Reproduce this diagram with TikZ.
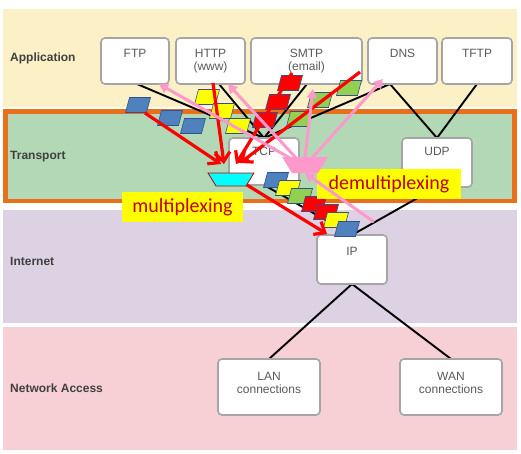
\documentclass[tikz,border=0pt]{standalone}
\usepackage{fontspec}
\setmainfont{Liberation Sans}
\newfontfamily\calfont{Carlito}
\usetikzlibrary{arrows.meta}
\definecolor{appbg}{HTML}{FCF0C6}
\definecolor{trbg}{HTML}{B3D8B5}
\definecolor{trborder}{HTML}{E8701A}
\definecolor{inbg}{HTML}{DDD2E4}
\definecolor{nabg}{HTML}{F6D0D5}
\definecolor{boxgray}{HTML}{A5A5A5}
\definecolor{txtgray}{HTML}{595959}
\definecolor{lblgray}{HTML}{404040}
\definecolor{pblue}{HTML}{4F81BD}
\definecolor{pyellow}{HTML}{FFFF00}
\definecolor{pred}{HTML}{FF0000}
\definecolor{pgreen}{HTML}{92D050}
\definecolor{pedge}{HTML}{2F528F}
\definecolor{pinkarr}{HTML}{FF99CC}
\definecolor{darkred}{HTML}{C00000}
\definecolor{muxcyan}{HTML}{00FFFF}
\newcommand\pkt[3]{\draw[pedge, line width=0.6pt, fill=#1] (#2-12.5,#3+7.5) -- (#2+8.5,#3+7.5) -- (#2+12.5,#3-7.5) -- (#2-8.5,#3-7.5) -- cycle;}
\begin{document}
\begin{tikzpicture}[x=1pt,y=-1pt,
  protobox/.style={draw=boxgray, line width=1.6pt, fill=white, rounded corners=4pt, inner sep=0pt},
  btxt/.style={font=\fontsize{12}{14}\selectfont, text=txtgray, inner sep=0pt, anchor=base},
  layer/.style={font=\bfseries\fontsize{12}{14}\selectfont, text=lblgray, anchor=west, inner sep=0pt},
  link/.style={line width=1.9pt, black},
  muxarrow/.style={draw=pred, line width=3.2pt, -{Straight Barb[length=9pt,width=15pt]}},
  demuxarrow/.style={draw=pinkarr, line width=3pt, -{Triangle[length=9pt,width=10pt]}},
  tag/.style={fill=pyellow, text=darkred, font=\calfont\fontsize{20}{22}\selectfont, inner sep=0pt}
]
\useasboundingbox (0,0) rectangle (521,453);
\fill[white] (0,0) rectangle (521,453);
% layer bands
\fill[appbg] (3,9) rectangle (517,107);
\draw[trborder, fill=trbg, line width=4.5pt] (5.5,111.5) rectangle (514.5,201);
\fill[inbg] (3,210) rectangle (517,323);
\fill[nabg] (3,327) rectangle (517,450);
% layer names
\node[layer] (lapp) at (10,58) {Application};
\node[layer] (ltr) at (10,157) {Transport};
\node[layer] (lin) at (10,261) {Internet};
\node[layer] (lna) at (10,388) {Network Access};
% link end points
\coordinate (ftpS) at (137,84);
\coordinate (httpS) at (219,84);
\coordinate (smtpS) at (307,84);
\coordinate (dnsS) at (390,84);
\coordinate (tftpS) at (477,84);
\coordinate (tcpN) at (264,138);
\coordinate (tcpS) at (264,185);
\coordinate (udpN) at (437,138);
\coordinate (udpS) at (437,187);
\coordinate (ipN) at (352,235);
\coordinate (ipS) at (352,284);
\coordinate (lanN) at (269,359);
\coordinate (wanN) at (451,359);
% links
\draw[link] (ftpS) -- (tcpN);
\draw[link] (httpS) -- (tcpN);
\draw[link] (smtpS) -- (tcpN);
\draw[link] (dnsS) -- (tcpN);
\draw[link] (dnsS) -- (udpN);
\draw[link] (tftpS) -- (udpN);
\draw[link] (tcpS) -- (ipN);
\draw[link] (udpS) -- (ipN);
\draw[link] (ipS) -- (lanN);
\draw[link] (ipS) -- (wanN);
% boxes
\node[protobox, minimum width=68pt, minimum height=46pt] (ftp) at (135,61) {};
\node[protobox, minimum width=69pt, minimum height=46pt] (http) at (210.5,61) {};
\node[protobox, minimum width=111pt, minimum height=46pt] (smtp) at (306.5,61) {};
\node[protobox, minimum width=69pt, minimum height=46pt] (dns) at (402.5,61) {};
\node[protobox, minimum width=70pt, minimum height=46pt] (tftp) at (477,61) {};
\node[protobox, minimum width=70pt, minimum height=47pt] (tcp) at (264,161.5) {};
\node[protobox, minimum width=70pt, minimum height=49pt] (udp) at (437,162.5) {};
\node[protobox, minimum width=70pt, minimum height=49pt] (ip) at (352,259.5) {};
\node[protobox, minimum width=102pt, minimum height=56pt] (lan) at (269,387) {};
\node[protobox, minimum width=102pt, minimum height=56pt] (wan) at (451,387) {};
% box texts
\node[btxt] (tftp1) at (135,57) {FTP};
\node[btxt] (thttp1) at (210.5,57) {HTTP};
\node[btxt] (thttp2) at (210.5,70) {(www)};
\node[btxt] (tsmtp1) at (306.5,57) {SMTP};
\node[btxt] (tsmtp2) at (306.5,70) {(email)};
\node[btxt] (tdns1) at (402.5,57) {DNS};
\node[btxt] (ttftp1) at (477,57) {TFTP};
\node[btxt] (ttcp1) at (264,155) {TCP};
\node[btxt] (tudp1) at (437,155) {UDP};
\node[btxt] (tip1) at (352,255) {IP};
\node[btxt] (tlan1) at (269,380) {LAN};
\node[btxt] (tlan2) at (269,393) {connections};
\node[btxt] (twan1) at (451,380) {WAN};
\node[btxt] (twan2) at (451,393) {connections};
% upper packets
\pkt{pblue}{138}{105}
\pkt{pblue}{170}{118}
\pkt{pblue}{193}{126}
\pkt{pyellow}{207}{97}
\pkt{pyellow}{222}{111}
\pkt{pyellow}{238}{126}
\pkt{pred}{290}{83}
\pkt{pred}{278}{102}
\pkt{pred}{265}{120}
\pkt{pgreen}{349}{88}
\pkt{pgreen}{320}{100}
\pkt{pgreen}{299}{119}
% lower packets
\pkt{pblue}{276}{180}
\pkt{pyellow}{288}{188}
\pkt{pgreen}{300}{196}
\pkt{pred}{314}{204}
\pkt{pred}{326}{212}
\pkt{pyellow}{336}{220}
\pkt{pblue}{347}{229}
% tags
\node[tag, minimum width=121pt, minimum height=30pt] (mtag) at (182.5,207) {multiplexing};
\node[tag, minimum width=144pt, minimum height=30pt] (dtag) at (389,184) {demultiplexing};
% arrow end points
\coordinate (r1s) at (145,113); \coordinate (r1e) at (221,164);
\coordinate (r2s) at (213,83);  \coordinate (r2e) at (224,164);
\coordinate (r3s) at (292,73);  \coordinate (r3e) at (236,164);
\coordinate (r4s) at (360,72);  \coordinate (r4e) at (240,163);
\coordinate (r5s) at (247,185); \coordinate (r5e) at (327,234);
\coordinate (p1s) at (374,222); \coordinate (p1e) at (305,173);
\coordinate (p2s) at (290,158); \coordinate (p2e) at (159,84);
\coordinate (p3s) at (296,158); \coordinate (p3e) at (228,84);
\coordinate (p4s) at (305,158); \coordinate (p4e) at (313,89);
\coordinate (p5s) at (312,158); \coordinate (p5e) at (383,79);
% red multiplexing arrows
\draw[muxarrow] (r1s) -- (r1e);
\draw[muxarrow] (r2s) -- (r2e);
\draw[muxarrow] (r3s) -- (r3e);
\draw[muxarrow] (r4s) -- (r4e);
\draw[muxarrow] (r5s) -- (r5e);
% pink demultiplexing arrows
\draw[demuxarrow] (p1s) -- (p1e);
\draw[demuxarrow] (p2s) -- (p2e);
\draw[demuxarrow] (p3s) -- (p3e);
\draw[demuxarrow] (p4s) -- (p4e);
\draw[demuxarrow] (p5s) -- (p5e);
% mux / demux
\draw[darkred, line width=0.8pt, fill=muxcyan] (208,173) -- (254,173) -- (246,186) -- (216,186) -- cycle;
\fill[pinkarr] (282,157) -- (328,157) -- (318,173) -- (292,173) -- cycle;
\end{tikzpicture}
\end{document}
